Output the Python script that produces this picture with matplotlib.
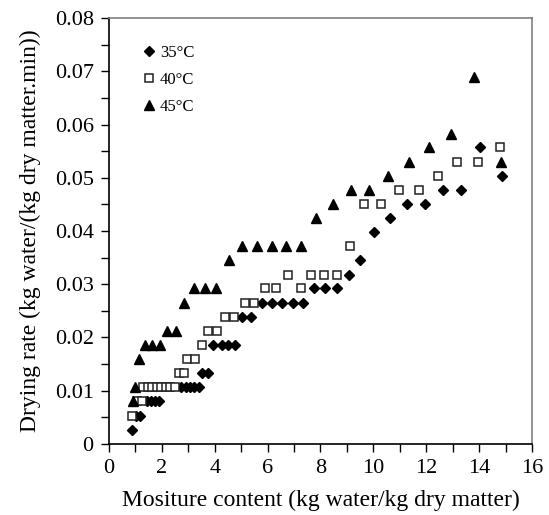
import matplotlib
matplotlib.use("Agg")
from matplotlib import pyplot as plt
from matplotlib.ticker import MultipleLocator, FuncFormatter

# 35 C (diamonds)
x35 = [0.88, 1.02, 1.17, 1.42, 1.58, 1.74, 1.90, 2.74, 2.91, 3.06, 3.21, 3.40,
       3.50, 3.75, 3.94, 4.26, 4.50, 4.75, 5.04, 5.38, 5.80, 6.18, 6.55, 6.95,
       7.33, 7.74, 8.18, 8.63, 9.06, 9.51, 10.03, 10.64, 11.27, 11.96, 12.63,
       13.30, 14.04, 14.86]
y35 = [0.0027, 0.0053, 0.0053, 0.0080, 0.0080, 0.0080, 0.0080, 0.0106, 0.0106,
       0.0106, 0.0106, 0.0106, 0.0133, 0.0133, 0.0186, 0.0186, 0.0186, 0.0186,
       0.0239, 0.0239, 0.0265, 0.0265, 0.0265, 0.0265, 0.0265, 0.0292, 0.0292,
       0.0292, 0.0318, 0.0345, 0.0398, 0.0424, 0.0451, 0.0451, 0.0477, 0.0477,
       0.0557, 0.0504]

# 40 C (open squares)
x40 = [0.86, 1.07, 1.26, 1.30, 1.47, 1.64, 1.81, 1.98, 2.15, 2.32, 2.50, 2.64,
       2.83, 2.96, 3.25, 3.50, 3.76, 4.07, 4.40, 4.74, 5.13, 5.47, 5.90, 6.30,
       7.25, 6.77, 7.65, 8.12, 8.64, 9.12, 9.63, 10.30, 10.96, 11.71, 12.44,
       13.16, 13.94, 14.78]
y40 = [0.0053, 0.0080, 0.0080, 0.0106, 0.0106, 0.0106, 0.0106, 0.0106, 0.0106,
       0.0106, 0.0106, 0.0133, 0.0133, 0.0159, 0.0159, 0.0186, 0.0212, 0.0212,
       0.0239, 0.0239, 0.0265, 0.0265, 0.0292, 0.0292, 0.0292, 0.0318, 0.0318,
       0.0318, 0.0318, 0.0371, 0.0451, 0.0451, 0.0477, 0.0477, 0.0504, 0.0530,
       0.0530, 0.0557]

# 45 C (triangles)
x45 = [0.89, 0.98, 1.13, 1.35, 1.64, 1.92, 2.21, 2.53, 2.84, 3.20, 3.65, 4.05,
       4.53, 5.05, 5.61, 6.18, 6.71, 7.27, 7.84, 8.46, 9.16, 9.83, 10.56, 11.35,
       12.10, 12.94, 13.81, 14.82]
y45 = [0.0080, 0.0106, 0.0159, 0.0186, 0.0186, 0.0186, 0.0212, 0.0212, 0.0265,
       0.0292, 0.0292, 0.0292, 0.0345, 0.0371, 0.0371, 0.0371, 0.0371, 0.0371,
       0.0424, 0.0451, 0.0477, 0.0477, 0.0504, 0.0530, 0.0557, 0.0583, 0.0689,
       0.0530]

labels = ["35°C", "40°C", "45°C"]

plt.rcParams["font.family"] = ["Liberation Serif", "DejaVu Serif"]

fig = plt.figure(figsize=(5.49, 5.15), dpi=100)
ax = fig.add_axes([0.1985, 0.138, 0.7705, 0.827])

ax.plot(x35, y35, linestyle="none", marker="D", markersize=4.6,
        color="black", label=labels[0])
ax.plot(x40, y40, linestyle="none", marker="s", markersize=6,
        markerfacecolor="white", markeredgecolor="#222222",
        markeredgewidth=1.1, label=labels[1])
ax.plot(x45, y45, linestyle="none", marker="^", markersize=7,
        color="black", label=labels[2])

ax.set_xlim(0, 16)
ax.set_ylim(0, 0.08)
ax.xaxis.set_major_locator(MultipleLocator(2))
ax.xaxis.set_minor_locator(MultipleLocator(1))
ax.yaxis.set_major_locator(MultipleLocator(0.01))
ax.yaxis.set_minor_locator(MultipleLocator(0.005))
ax.yaxis.set_major_formatter(FuncFormatter(lambda v, p: "0" if v == 0 else "%g" % round(v, 2)))

ax.tick_params(which="both", direction="out", width=1, colors="black",
               labelsize=16, length=6)
ax.tick_params(axis="x", pad=5)
ax.tick_params(axis="y", pad=5)

for s in ["top", "right"]:
    ax.spines[s].set_color("#808080")
for s in ["left", "bottom"]:
    ax.spines[s].set_color("black")
for s in ax.spines.values():
    s.set_linewidth(1.2)

ax.set_xlabel("Mositure content (kg water/kg dry matter)", fontsize=17, labelpad=8)
ax.set_ylabel("Drying rate (kg water/(kg dry matter.min))", fontsize=17, labelpad=10)

ax.legend(loc="upper left", bbox_to_anchor=(0.04, 0.972), frameon=False,
          fontsize=12, handletextpad=0.15, handlelength=1.0, labelspacing=0.65)

fig.savefig("out.png", dpi=100)
